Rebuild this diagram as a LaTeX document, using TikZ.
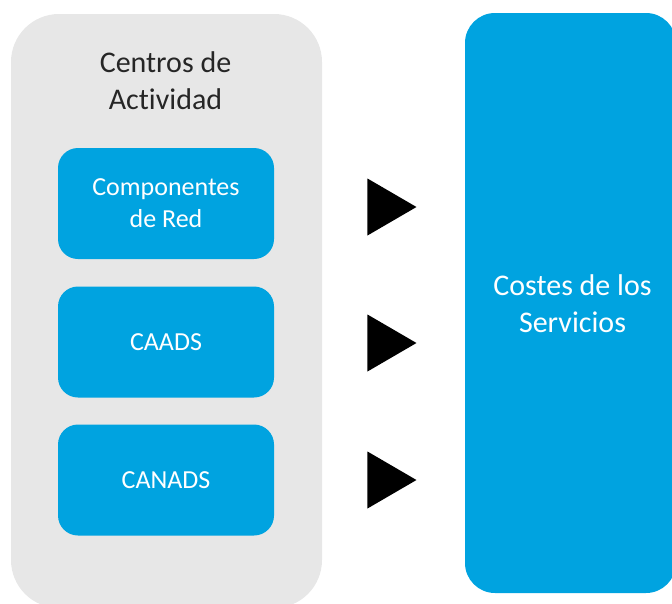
\documentclass[tikz,border=0pt]{standalone}
\usepackage{fontspec}
\setmainfont{Carlito}[Ligatures=NoCommon]
\usetikzlibrary{shapes.geometric}

\definecolor{panelgray}{RGB}{231,231,231}
\definecolor{costblue}{RGB}{0,163,224}
\definecolor{titlegray}{RGB}{38,38,38}

\tikzset{
    panel/.style={fill=panelgray, rounded corners=48pt, inner sep=0pt},
    centrebox/.style={fill=costblue, rounded corners=20pt, inner sep=0pt,
        minimum width=216pt, minimum height=111pt, text=white, align=center,
        font=\fontsize{26}{32}\selectfont},
    costbox/.style={fill=costblue, rounded corners=30pt, inner sep=0pt,
        minimum width=211pt, minimum height=580pt},
    pointer/.style={isosceles triangle, isosceles triangle stretches, fill=black,
        inner sep=0pt, minimum width=57pt, minimum height=49pt, anchor=apex}
}

\begin{document}
\begin{tikzpicture}[x=1pt, y=-1pt]

\useasboundingbox (0,0) rectangle (672,603);

% Draw the activity panel and its title
\node[panel, minimum width=311pt, minimum height=594pt] (panel) at (166.5,311) {};
\node[text=titlegray, align=center, font=\fontsize{30}{37}\selectfont] (title) at (165.5,81) {Centros de\\Actividad};

% Draw the activity centres
\node[centrebox] (red) at (166,203.5) {Componentes\\de Red};
\node[centrebox] (caads) at (166,342) {CAADS};
\node[centrebox] (canads) at (166,480) {CANADS};

% Draw the pointers
\foreach \y [count=\k] in {207,343,480} {
    \node[pointer] (pointer\k) at (417,\y) {};
}

% Draw the service costs box
\node[costbox] (costes) at (570.5,303) {};
\node[text=white, align=center, font=\fontsize{30}{37}\selectfont] (costlabel) at (572.5,303.5) {Costes de los\\Servicios};

\end{tikzpicture}
\end{document}
